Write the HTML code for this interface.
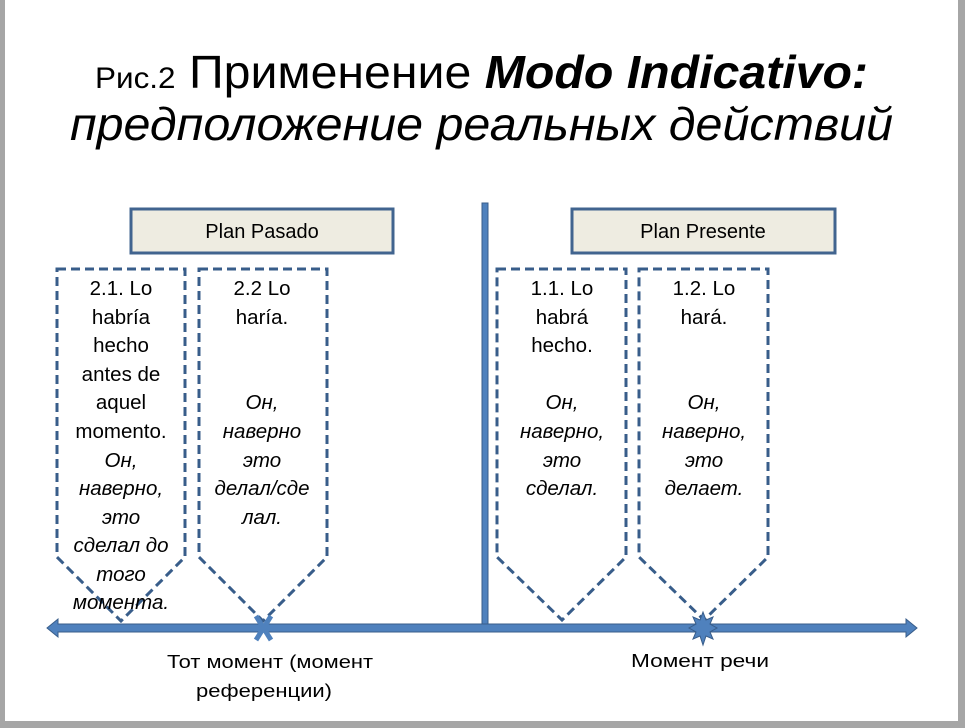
<!DOCTYPE html>
<html><head><meta charset="utf-8"><style>
html,body{margin:0;padding:0;background:#fff}
svg{display:block}
text{font-family:"Liberation Sans",sans-serif;fill:#000}
</style></head><body>
<svg width="965" height="728" viewBox="0 0 965 728" xmlns="http://www.w3.org/2000/svg">
<rect x="0" y="0" width="965" height="728" fill="#a6a6a6"/>
<rect x="5" y="0" width="953" height="721" fill="#fff"/>
<!-- title -->
<text x="95" y="88" font-size="46" textLength="773" lengthAdjust="spacingAndGlyphs"><tspan font-size="30">Рис.2</tspan>  Применение <tspan font-weight="bold" font-style="italic">Modo Indicativo:</tspan></text>
<text x="70" y="140" font-size="46" font-style="italic" textLength="823" lengthAdjust="spacingAndGlyphs">предположение реальных действий</text>
<!-- plan boxes -->
<rect x="131" y="209" width="262" height="44" fill="#eeece1" stroke="#41648f" stroke-width="3"/>
<text x="262" y="238" font-size="20" text-anchor="middle">Plan Pasado</text>
<rect x="572" y="209" width="263" height="44" fill="#eeece1" stroke="#41648f" stroke-width="3"/>
<text x="703" y="238" font-size="20" text-anchor="middle">Plan Presente</text>
<!-- vertical -->
<rect x="482" y="203" width="6" height="424" fill="#4f81bd" stroke="#385d8a" stroke-width="1"/>
<!-- pentagons -->
<g fill="none" stroke="#385d8a" stroke-width="3" stroke-dasharray="9,5">
<path d="M57 269 H185 V557 L121 621 L57 557 Z"/>
<path d="M199 269 H327 V557 L263 621 L199 557 Z"/>
<path d="M497 269 H626 V557 L562 620 L497 557 Z"/>
<path d="M639 269 H768 V557 L704 620 L639 557 Z"/>
</g>
<!-- timeline -->
<path d="M58 624 H906 V619 L917 628 L906 637 V632 H58 V637 L47 628 L58 619 Z" fill="#4f81bd" stroke="#385d8a" stroke-width="1"/>
<g stroke="#4f81bd" stroke-width="5"><line x1="256" y1="616" x2="271" y2="640"/><line x1="271" y1="616" x2="256" y2="640"/></g>
<polygon points="703,612 706,620 713,617 710,624 717,628 710,632 713,639 706,636 703,645 700,636 693,639 696,632 689,628 696,624 693,617 700,620" fill="#4f81bd" stroke="#385d8a"/>
<!-- box texts -->
<g font-size="20.5" text-anchor="middle">
<text x="121" y="295">2.1.  Lo</text>
<text x="121" y="324">habría</text>
<text x="121" y="352">hecho</text>
<text x="121" y="381">antes de</text>
<text x="121" y="409">aquel</text>
<text x="121" y="438">momento.</text>
<g font-style="italic">
<text x="121" y="467">Он,</text>
<text x="121" y="495">наверно,</text>
<text x="121" y="524">это</text>
<text x="121" y="552">сделал до</text>
<text x="121" y="581">того</text>
<text x="121" y="609">момента.</text>
</g>
<text x="262" y="295">2.2  Lo</text>
<text x="262" y="324">haría.</text>
<g font-style="italic">
<text x="262" y="409">Он,</text>
<text x="262" y="438">наверно</text>
<text x="262" y="467">это</text>
<text x="262" y="495">делал/сде</text>
<text x="262" y="524">лал.</text>
</g>
<text x="562" y="295">1.1.  Lo</text>
<text x="562" y="324">habrá</text>
<text x="562" y="352">hecho.</text>
<g font-style="italic">
<text x="562" y="409">Он,</text>
<text x="562" y="438">наверно,</text>
<text x="562" y="467">это</text>
<text x="562" y="495">сделал.</text>
</g>
<text x="704" y="295">1.2. Lo</text>
<text x="704" y="324">hará.</text>
<g font-style="italic">
<text x="704" y="409">Он,</text>
<text x="704" y="438">наверно,</text>
<text x="704" y="467">это</text>
<text x="704" y="495">делает.</text>
</g>
</g>
<g font-size="18" text-anchor="middle">
<text x="270" y="668" textLength="206" lengthAdjust="spacingAndGlyphs">Тот момент (момент</text>
<text x="264" y="697" textLength="136" lengthAdjust="spacingAndGlyphs">референции)</text>
<text x="700" y="667" textLength="138" lengthAdjust="spacingAndGlyphs">Момент речи</text>
</g>
</svg>
</body></html>
